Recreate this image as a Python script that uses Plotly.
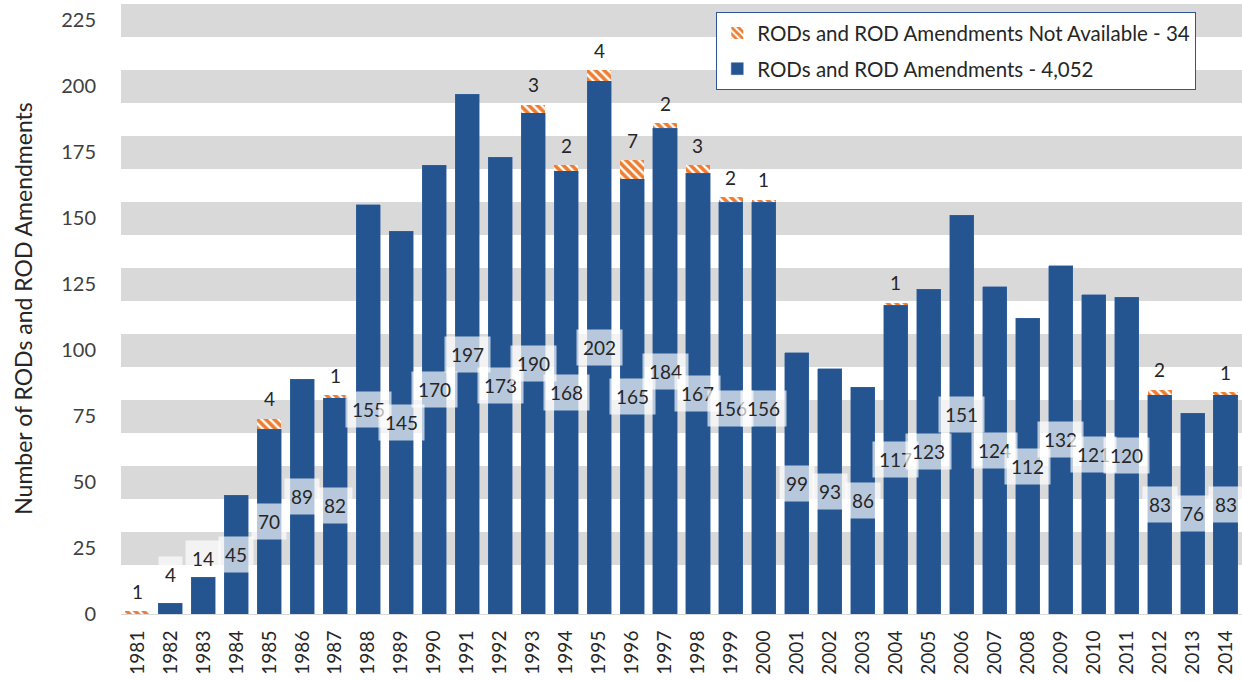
import plotly.graph_objects as go

years = [str(y) for y in range(1981, 2015)]
rods = [0, 4, 14, 45, 70, 89, 82, 155, 145, 170, 197, 173, 190, 168, 202, 165, 184,
        167, 156, 156, 99, 93, 86, 117, 123, 151, 124, 112, 132, 121, 120, 83, 76, 83]
not_avail = [1, 0, 0, 0, 4, 0, 1, 0, 0, 0, 0, 0, 3, 2, 4, 7, 2,
             3, 2, 1, 0, 0, 0, 1, 0, 0, 0, 0, 0, 0, 0, 2, 0, 1]
y_ticks = [0, 25, 50, 75, 100, 125, 150, 175, 200, 225]

BLUE = "#245591"
ORANGE = "#ED7D31"
FONT = "Lato"

fig = go.Figure()
fig.add_trace(go.Bar(
    x=years, y=rods, name="RODs and ROD Amendments - 4,052",
    marker=dict(color=BLUE, line=dict(color="#3a6aa5", width=0.5)),
    legendrank=2, legendgroup="b",
))
fig.add_trace(go.Bar(
    x=years, y=not_avail, name="RODs and ROD Amendments Not Available - 34",
    marker=dict(color="white", line=dict(width=0),
                pattern=dict(shape="\\", fgcolor=ORANGE, bgcolor="white",
                             fgopacity=1, size=6, solidity=0.6)),
    legendrank=1, legendgroup="a",
))

annotations = []
for i, (v, n) in enumerate(zip(rods, not_avail)):
    if v > 0:
        ly = v / 2 if v > 30 else min(v + 11, 21)
        annotations.append(dict(
            x=i, y=ly, text=str(v), showarrow=False,
            font=dict(family=FONT, size=19, color="#262626"),
            bgcolor="rgba(255,255,255,0.68)", borderpad=6,
        ))
    if n > 0:
        annotations.append(dict(
            x=i, y=v + n + 7.5, text=str(n), showarrow=False,
            font=dict(family=FONT, size=19, color="#262626"),
        ))

fig.update_layout(
    width=1242, height=681,
    barmode="stack", bargap=0.27,
    plot_bgcolor="white", paper_bgcolor="white",
    margin=dict(l=121, r=0, t=3, b=67),
    font=dict(family=FONT, color="#404040"),
    annotations=annotations,
    showlegend=True,
    legend=dict(
        x=0.531, y=0.985, xanchor="left", yanchor="top",
        traceorder="grouped", tracegroupgap=6,
        bgcolor="white", bordercolor="#2F5597", borderwidth=1,
        font=dict(family=FONT, size=20.5, color="#262626"),
        itemwidth=30,
    ),
    xaxis=dict(
        type="category", tickangle=-90, showgrid=False,
        range=[-0.5, len(years) - 0.5],
        tickfont=dict(family=FONT, size=19, color="#262626"),
        showline=False, ticks="outside", ticklen=8, tickcolor="rgba(0,0,0,0)",
    ),
    yaxis=dict(
        range=[0, 231.5], tickvals=y_ticks,
        showgrid=True, gridcolor="#D9D9D9", gridwidth=33,
        zeroline=True, zerolinecolor="#D9D9D9", zerolinewidth=1,
        tickfont=dict(family=FONT, size=20, color="#404040"),
        ticks="outside", ticklen=20, tickcolor="rgba(0,0,0,0)",
        title=dict(text="Number of RODs and ROD Amendments",
                   font=dict(family=FONT, size=23, color="#262626"),
                   standoff=22),
    ),
)

fig.write_html("out.html", config={"displayModeBar": False},
               post_script="document.body.style.margin='0';")
